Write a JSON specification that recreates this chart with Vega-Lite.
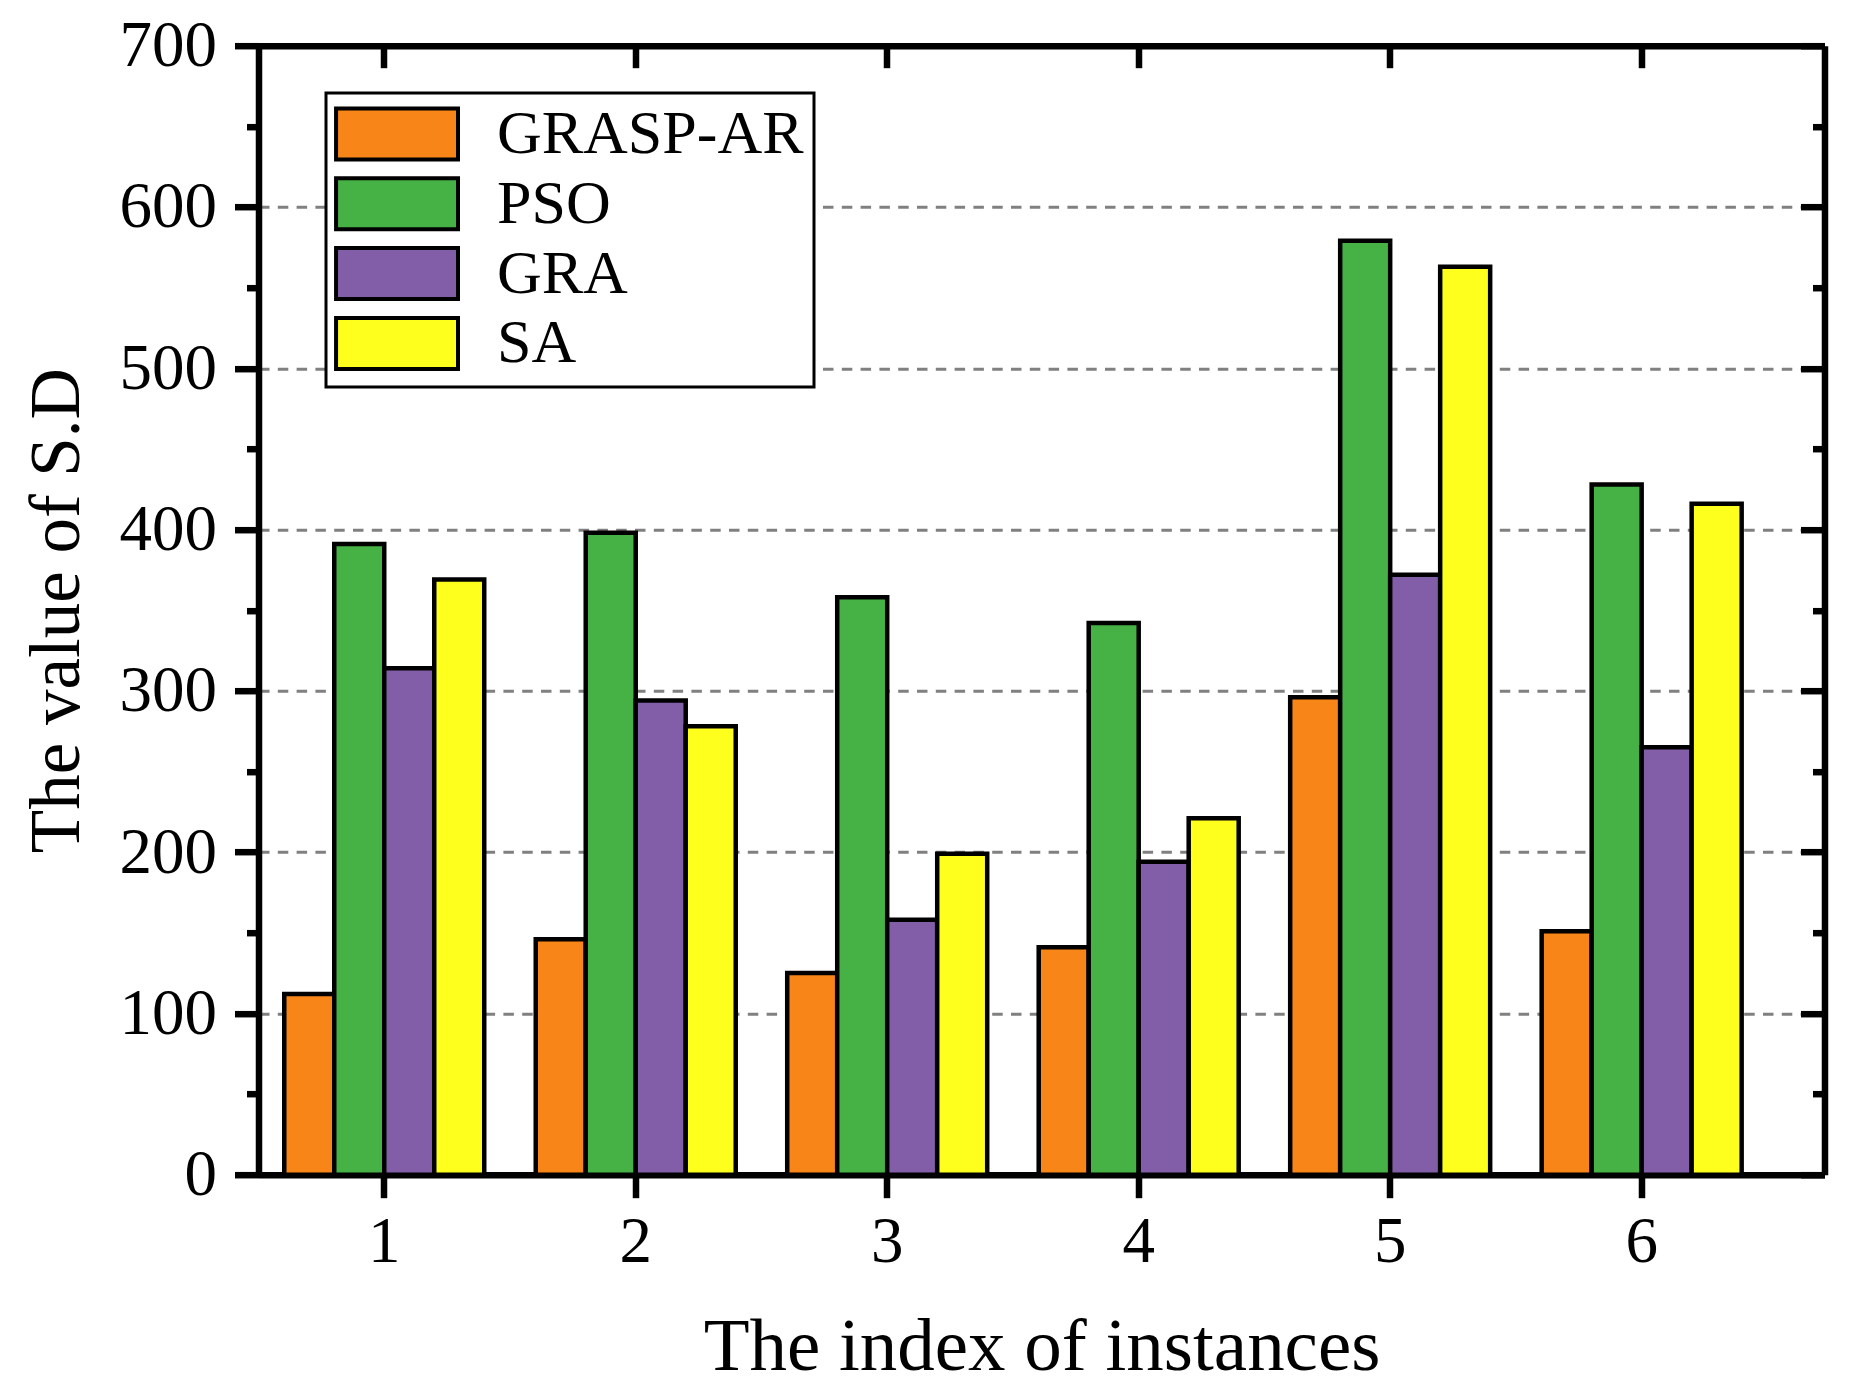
{
  "$schema": "https://vega.github.io/schema/vega-lite/v6.json",
  "autosize": "none",
  "padding": {"left": 258.5, "top": 45.7, "right": 28, "bottom": 216},
  "width": 1566,
  "height": 1129,
  "background": "white",
  "config": {
    "font": "Liberation Serif",
    "view": {"stroke": null},
    "legend": {"strokeWidth": 3},
    "axis": {
      "domainColor": "black",
      "domainWidth": 6.5,
      "tickColor": "black",
      "tickWidth": 6.5,
      "labelColor": "black",
      "titleColor": "black",
      "labelFont": "Liberation Serif",
      "titleFont": "Liberation Serif",
      "titleFontWeight": "normal"
    }
  },
  "data": {
    "values": [
      {"instance": "1", "algorithm": "GRASP-AR", "sd": 112},
      {"instance": "1", "algorithm": "PSO", "sd": 391},
      {"instance": "1", "algorithm": "GRA", "sd": 314},
      {"instance": "1", "algorithm": "SA", "sd": 369},
      {"instance": "2", "algorithm": "GRASP-AR", "sd": 146},
      {"instance": "2", "algorithm": "PSO", "sd": 398},
      {"instance": "2", "algorithm": "GRA", "sd": 294},
      {"instance": "2", "algorithm": "SA", "sd": 278},
      {"instance": "3", "algorithm": "GRASP-AR", "sd": 125},
      {"instance": "3", "algorithm": "PSO", "sd": 358},
      {"instance": "3", "algorithm": "GRA", "sd": 158},
      {"instance": "3", "algorithm": "SA", "sd": 199},
      {"instance": "4", "algorithm": "GRASP-AR", "sd": 141},
      {"instance": "4", "algorithm": "PSO", "sd": 342},
      {"instance": "4", "algorithm": "GRA", "sd": 194},
      {"instance": "4", "algorithm": "SA", "sd": 221},
      {"instance": "5", "algorithm": "GRASP-AR", "sd": 296},
      {"instance": "5", "algorithm": "PSO", "sd": 579},
      {"instance": "5", "algorithm": "GRA", "sd": 372},
      {"instance": "5", "algorithm": "SA", "sd": 563},
      {"instance": "6", "algorithm": "GRASP-AR", "sd": 151},
      {"instance": "6", "algorithm": "PSO", "sd": 428},
      {"instance": "6", "algorithm": "GRA", "sd": 265},
      {"instance": "6", "algorithm": "SA", "sd": 416}
    ]
  },
  "encoding": {
    "x": {
      "field": "instance",
      "type": "nominal",
      "sort": ["1", "2", "3", "4", "5", "6"],
      "scale": {"paddingInner": 0, "paddingOuter": 0.1135, "align": 0}
    },
    "xOffset": {
      "field": "algorithm",
      "type": "nominal",
      "sort": ["GRASP-AR", "PSO", "GRA", "SA"],
      "scale": {"paddingInner": 0, "paddingOuter": 0.515}
    },
    "y": {
      "field": "sd",
      "type": "quantitative",
      "scale": {"domain": [0, 700], "nice": false, "zero": true}
    }
  },
  "layer": [
    {
      "mark": {"type": "bar", "stroke": "black", "strokeWidth": 4.5, "opacity": 1},
      "encoding": {
        "x": {
          "field": "instance",
          "type": "nominal",
          "sort": ["1", "2", "3", "4", "5", "6"],
          "axis": {
            "orient": "bottom",
            "title": "The index of instances",
            "titleFontSize": 75,
            "titlePadding": 36,
            "labelAngle": 0,
            "labelFontSize": 65,
            "labelPadding": 13,
            "tickSize": 23
          }
        },
        "y": {
          "field": "sd",
          "type": "quantitative",
          "axis": {
            "orient": "left",
            "title": "The value of S.D",
            "titleFontSize": 71,
            "titlePadding": 26,
            "values": [0, 50, 100, 150, 200, 250, 300, 350, 400, 450, 500, 550, 600, 650, 700],
            "labelExpr": "datum.value % 100 === 0 ? datum.label : ''",
            "labelFontSize": 65,
            "labelPadding": 18,
            "tickSize": {"condition": {"test": "datum.value % 100 === 0", "value": 24}, "value": 12},
            "grid": true,
            "gridColor": "#808080",
            "gridWidth": 3,
            "gridDash": [10.5, 8.3],
            "gridOpacity": {"condition": {"test": "datum.value % 100 === 0 && datum.value > 0 && datum.value < 700", "value": 1}, "value": 0}
          }
        },
        "color": {
          "field": "algorithm",
          "type": "nominal",
          "sort": ["GRASP-AR", "PSO", "GRA", "SA"],
          "scale": {
            "domain": ["GRASP-AR", "PSO", "GRA", "SA"],
            "range": ["#F88518", "#46B246", "#825EA8", "#FFFF1E"]
          },
          "legend": {
            "title": null,
            "orient": "none",
            "legendX": 67.5,
            "legendY": 47.3,
            "padding": 10,
            "strokeColor": "black",
            "fillColor": "white",
            "symbolType": "M-1.19,-0.98H3.5V0.98H-1.19Z",
            "symbolSize": 2704,
            "symbolStrokeColor": "black",
            "symbolStrokeWidth": 4,
            "symbolOpacity": 1,
            "labelFont": "Liberation Serif",
            "labelFontSize": 62,
            "labelColor": "black",
            "labelOffset": 99,
            "labelLimit": 1000,
            "rowPadding": 1.8
          }
        }
      }
    },
    {
      "mark": {"type": "bar", "opacity": 0},
      "encoding": {
        "x": {
          "field": "instance",
          "type": "nominal",
          "sort": ["1", "2", "3", "4", "5", "6"],
          "axis": {
            "orient": "top",
            "title": null,
            "labels": false,
            "tickSize": -22
          }
        },
        "y": {
          "field": "sd",
          "type": "quantitative",
          "axis": {
            "orient": "right",
            "title": null,
            "labels": false,
            "grid": false,
            "values": [0, 50, 100, 150, 200, 250, 300, 350, 400, 450, 500, 550, 600, 650, 700],
            "tickSize": {"condition": {"test": "datum.value % 100 === 0", "value": -24}, "value": -12}
          }
        }
      }
    }
  ],
  "resolve": {"axis": {"x": "independent", "y": "independent"}}
}
